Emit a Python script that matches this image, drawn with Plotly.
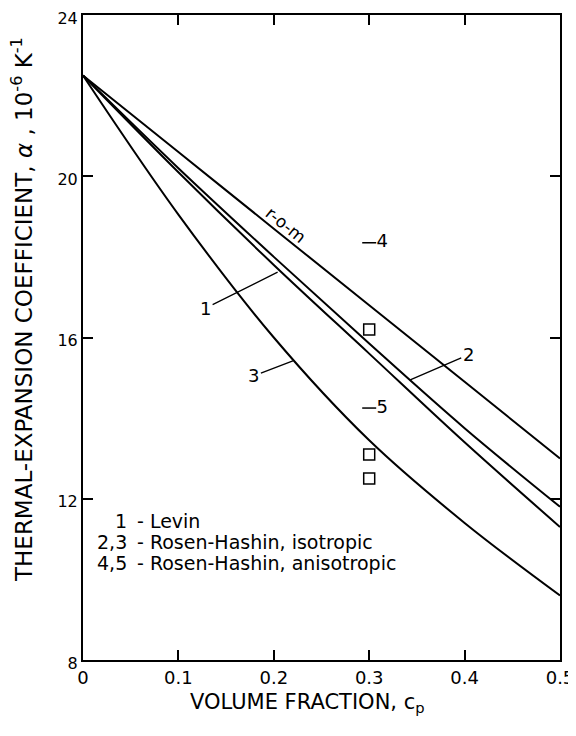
import plotly.graph_objects as go

# ---- data ----
cp = [0, 0.1, 0.2, 0.3, 0.4, 0.5]
rom = [22.5, 20.6, 18.7, 16.8, 14.9, 13.0]            # rule of mixtures
levin_1 = [22.5, 20.1, 17.8, 15.6, 13.4, 11.3]        # 1 - Levin
rh_iso_2 = [22.5, 20.2, 18.0, 15.85, 13.75, 11.8]     # 2 - Rosen-Hashin isotropic (upper)
rh_iso_3 = [22.5, 19.05, 16.0, 13.45, 11.4, 9.6]      # 3 - Rosen-Hashin isotropic (lower)
exp_x = [0.3, 0.3, 0.3]                               # measured values (squares)
exp_y = [16.2, 13.1, 12.5]
aniso_x = [0.3, 0.3]                                  # 4,5 - Rosen-Hashin anisotropic
aniso_y = [18.35, 14.25]
aniso_labels = ["4", "5"]
xtick_vals = [0, 0.1, 0.2, 0.3, 0.4, 0.5]
xtick_text = ["0", "0.1", "0.2", "0.3", "0.4", "0.5"]
ytick_vals = [8, 12, 16, 20, 24]
legend_nums = ["1", "2,3", "4,5"]
legend_desc = ["- Levin", "- Rosen-Hashin, isotropic", "- Rosen-Hashin, anisotropic"]

FONT = "DejaVu Sans, Liberation Sans, Arial, sans-serif"
# page geometry (the html body has an 8 px margin)
OFF = 8
PL, PR, PT, PB = 83, 560, 15, 660          # plot area in page pixels
W, H = 576 - OFF, 736 - OFF
L, T = PL - OFF, PT - OFF
R = (OFF + W) - PR
B = (OFF + H) - PB
PW, PH = PR - PL, PB - PT


def px(xp):
    return (xp - PL) / PW


def py(yp):
    return (PB - yp) / PH


fig = go.Figure()
line_style = dict(color="black", width=2)
for ys in (rom, levin_1, rh_iso_2, rh_iso_3):
    fig.add_trace(go.Scatter(x=cp, y=ys, mode="lines", line=dict(**line_style, shape="spline"),
                             showlegend=False, hoverinfo="skip"))

fig.add_trace(go.Scatter(x=exp_x, y=exp_y, mode="markers",
                         marker=dict(symbol="square-open", size=11, color="black",
                                     line=dict(width=1.5, color="black")),
                         showlegend=False))
fig.add_trace(go.Scatter(x=aniso_x, y=aniso_y, mode="markers+text", text=aniso_labels,
                         textposition="middle right",
                         textfont=dict(family=FONT, size=18, color="black"),
                         marker=dict(symbol="line-ew", size=10, color="black",
                                     line=dict(width=1.5, color="black")),
                         showlegend=False))

LBL = dict(family=FONT, size=18, color="black")
LEG = dict(family=FONT, size=19, color="black")
ann = []
# r-o-m label along the line
ann.append(dict(x=px(286), y=py(225), xref="paper", yref="paper", text="r-o-m",
                xanchor="center", yanchor="middle",
                showarrow=False, textangle=39, font=dict(family=FONT, size=17, color="black")))
# curve labels with leader lines
ann.append(dict(x=0.204, y=17.62, xref="x", yref="y", text="1", showarrow=True, arrowhead=0,
                arrowwidth=1.3, arrowcolor="black", ax=-72, ay=36, font=LBL))
ann.append(dict(x=0.22, y=15.42, xref="x", yref="y", text="3", showarrow=True, arrowhead=0,
                arrowwidth=1.3, arrowcolor="black", ax=-39, ay=15, font=LBL))
ann.append(dict(x=0.343, y=14.95, xref="x", yref="y", text="2", showarrow=True, arrowhead=0,
                arrowwidth=1.3, arrowcolor="black", ax=58, ay=-25, font=LBL))
# text legend
for i, (n, d) in enumerate(zip(legend_nums, legend_desc)):
    yy = py(521 + 21 * i)
    ann.append(dict(x=px(129), y=yy, xref="paper", yref="paper", text=n, showarrow=False,
                    xanchor="right", yanchor="middle", font=LEG))
    ann.append(dict(x=px(135), y=yy, xref="paper", yref="paper", text=d, showarrow=False,
                    xanchor="left", yanchor="middle", font=LEG))
# axis titles
ann.append(dict(x=px(22), y=py(310), xref="paper", yref="paper",
                text="THERMAL-EXPANSION COEFFICIENT, <i>α</i> , 10<sup>-6</sup> K<sup>-1</sup>",
                xanchor="center", yanchor="middle",
                showarrow=False, textangle=-90, font=dict(family=FONT, size=23, color="black")))
ann.append(dict(x=px(307), y=py(703), xref="paper", yref="paper",
                text="VOLUME FRACTION, c<sub>p</sub>", xanchor="center", yanchor="middle",
                showarrow=False, font=dict(family=FONT, size=21, color="black")))

fig.update_layout(
    width=W, height=H, margin=dict(l=L, r=R, t=T, b=B, autoexpand=False),
    paper_bgcolor="white", plot_bgcolor="white",
    font=dict(family=FONT, color="black"),
    annotations=ann,
    xaxis=dict(range=[0, 0.5], tickvals=xtick_vals, ticktext=xtick_text,
               ticks="inside", ticklen=10, tickwidth=1.5, tickcolor="black",
               showline=True, linecolor="black", linewidth=2, mirror="ticks",
               showgrid=False, zeroline=False, ticklabeloverflow="allow",
               tickfont=dict(family=FONT, size=18, color="black")),
    yaxis=dict(range=[8, 24], tickvals=ytick_vals,
               ticks="inside", ticklen=10, tickwidth=1.5, tickcolor="black",
               showline=True, linecolor="black", linewidth=2, mirror="ticks",
               showgrid=False, zeroline=False, ticklabeloverflow="allow",
               ticklabelshift=3,
               tickfont=dict(family=FONT, size=16, color="black")),
)

fig.write_html("out.html")
